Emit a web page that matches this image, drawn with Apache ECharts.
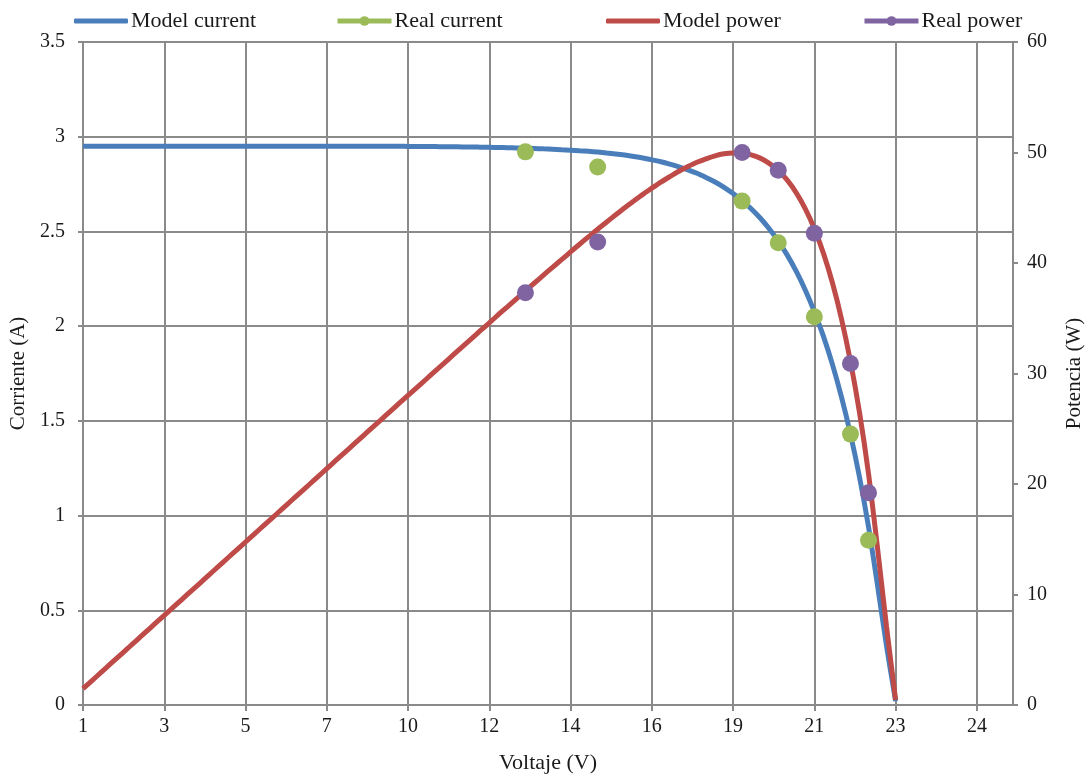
<!DOCTYPE html>
<html>
<head>
<meta charset="utf-8">
<script src="https://cdn.jsdelivr.net/npm/echarts@6/dist/echarts.min.js"></script>
<style>
    html, body { margin: 0; padding: 0; background: #fff; }
    #chart { width: 1088px; height: 776px; }
</style>
</head>
<body>
<div id="chart"></div>
<script>
    // categorias del eje X: voltaje (V)
    let voltaje = [
        0.5, 0.75, 1, 1.25, 1.5, 1.75, 2, 2.25, 2.5, 2.75,
        3, 3.25, 3.5, 3.75, 4, 4.25, 4.5, 4.75, 5, 5.25,
        5.5, 5.75, 6, 6.25, 6.5, 6.75, 7, 7.25, 7.5, 7.75,
        8, 8.25, 8.5, 8.75, 9, 9.25, 9.5, 9.75, 10, 10.25,
        10.5, 10.75, 11, 11.25, 11.5, 11.75, 12, 12.25, 12.5, 12.75,
        13, 13.25, 13.5, 13.75, 14, 14.25, 14.5, 14.75, 15, 15.25,
        15.5, 15.75, 16, 16.25, 16.5, 16.75, 17, 17.25, 17.5, 17.75,
        18, 18.25, 18.5, 18.75, 19, 19.25, 19.5, 19.75, 20, 20.25,
        20.5, 20.75, 21, 21.25, 21.5, 21.75, 22, 22.25, 22.5, 22.75,
        23, 23.1, 23.2, 23.3, 23.4, 23.5, 23.6, 23.7, 23.8, 23.9,
        24, 24.1, 24.2, 24.3
    ];

    // modelo: corriente (A)
    let modelCurrent = [
        2.95, 2.95, 2.95, 2.95, 2.95, 2.95, 2.95, 2.95, 2.95, 2.95,
        2.95, 2.95, 2.95, 2.95, 2.95, 2.95, 2.95, 2.95, 2.95, 2.95,
        2.95, 2.95, 2.95, 2.95, 2.95, 2.95, 2.95, 2.95, 2.95, 2.95,
        2.95, 2.95, 2.95, 2.95, 2.95, 2.95, 2.949, 2.949, 2.948, 2.948,
        2.947, 2.947, 2.946, 2.946, 2.945, 2.944, 2.943, 2.942, 2.941, 2.939,
        2.938, 2.936, 2.934, 2.931, 2.929, 2.926, 2.923, 2.919, 2.914, 2.909,
        2.903, 2.896, 2.888, 2.878, 2.868, 2.855, 2.841, 2.825, 2.807, 2.785,
        2.761, 2.733, 2.700, 2.663, 2.620, 2.571, 2.514, 2.449, 2.375, 2.289,
        2.190, 2.077, 1.947, 1.798, 1.626, 1.429, 1.203, 0.94, 0.63, 0.31,
        0.02
    ];

    // modelo: potencia (W)
    let modelPower = [
        1.48, 2.21, 2.95, 3.69, 4.43, 5.16, 5.90, 6.64, 7.38, 8.11,
        8.85, 9.59, 10.33, 11.06, 11.80, 12.54, 13.28, 14.01, 14.75, 15.49,
        16.23, 16.96, 17.70, 18.44, 19.18, 19.91, 20.65, 21.39, 22.13, 22.86,
        23.60, 24.34, 25.08, 25.81, 26.55, 27.29, 28.02, 28.75, 29.48, 30.22,
        30.94, 31.68, 32.41, 33.14, 33.87, 34.59, 35.32, 36.04, 36.76, 37.47,
        38.19, 38.90, 39.61, 40.30, 41.01, 41.70, 42.38, 43.06, 43.71, 44.36,
        45.00, 45.61, 46.21, 46.77, 47.32, 47.82, 48.30, 48.73, 49.12, 49.43,
        49.70, 49.88, 49.95, 49.93, 49.78, 49.49, 49.02, 48.37, 47.50, 46.35,
        44.90, 43.10, 40.89, 38.21, 34.96, 31.08, 26.47, 20.92, 14.18, 7.05,
        0.46
    ];

    // medidas reales
    let realVoltage = [12.75, 14.75, 18.75, 19.75, 20.75, 21.75, 22.25];
    let realCurrent = [2.92, 2.84, 2.66, 2.44, 2.05, 1.43, 0.87];
    let realPower = [37.3, 41.9, 50.0, 48.4, 42.7, 30.9, 19.2];

    // colores
    let blue = '#4a7ebb', green = '#9bbb59', red = '#be4b48', purple = '#8064a2';
    let gray = '#8a8a8a', txt = '#1a1a1a';
    let font = 'Liberation Serif';

    // huecos donde no hay medida (como celdas vacias en Excel)
    function sparse(values) {
        return voltaje.map(v => {
            let k = realVoltage.indexOf(v);
            return k < 0 ? '-' : values[k];
        });
    }

    let myChart = echarts.init(document.getElementById('chart'));

    function legendAt(name, left, isReal) {
        let lg = {
            data: [isReal ? name : {name: name, icon: 'roundRect'}],
            left: left,
            top: 10,
            padding: 0,
            itemWidth: 54,
            itemHeight: isReal ? 12 : 5,
            itemGap: 0,
            selectedMode: false,
            textStyle: {fontFamily: font, fontSize: 22, color: txt, padding: [0, 0, 0, -2]}
        };
        if (isReal) lg.lineStyle = {width: 5};
        return lg;
    }

    let option = {
        animation: false,
        backgroundColor: '#fff',
        textStyle: {fontFamily: font},
        legend: [
            legendAt('Model current', 74, false),
            legendAt('Real current', 335, true),
            legendAt('Model power', 606, false),
            legendAt('Real power', 862, true)
        ],
        grid: {left: 83, right: 75, top: 42, bottom: 71, outerBoundsMode: 'none'},
        xAxis: {
            type: 'category',
            data: voltaje,
            boundaryGap: false,
            name: 'Voltaje (V)',
            nameLocation: 'middle',
            nameGap: 47,
            nameTextStyle: {fontFamily: font, fontSize: 22, color: txt},
            axisLine: {lineStyle: {color: gray, width: 2}},
            axisTick: {interval: 8, length: 6, lineStyle: {color: gray, width: 2}},
            axisLabel: {
                interval: 8,
                margin: 12,
                fontFamily: font,
                fontSize: 20,
                color: txt,
                formatter: v => String(Math.round(Number(v)))
            },
            splitLine: {show: true, interval: 8, lineStyle: {color: gray, width: 2}}
        },
        yAxis: [
            {
                type: 'value',
                min: 0,
                max: 3.5,
                interval: 0.5,
                name: 'Corriente (A)',
                nameLocation: 'middle',
                nameRotate: 90,
                nameGap: 44,
                nameTextStyle: {fontFamily: font, fontSize: 21, color: txt},
                axisLine: {show: true, lineStyle: {color: gray, width: 2}},
                axisTick: {show: true, length: 5, lineStyle: {color: gray, width: 2}},
                axisLabel: {margin: 18, fontFamily: font, fontSize: 20, color: txt},
                splitLine: {show: true, lineStyle: {color: gray, width: 2}}
            },
            {
                type: 'value',
                min: 0,
                max: 60,
                interval: 10,
                position: 'right',
                name: 'Potencia (W)',
                nameLocation: 'middle',
                nameRotate: 90,
                nameGap: 51,
                nameTextStyle: {fontFamily: font, fontSize: 21, color: txt},
                axisLine: {show: true, lineStyle: {color: gray, width: 2}},
                axisTick: {show: true, length: 5, lineStyle: {color: gray, width: 2}},
                axisLabel: {margin: 14, fontFamily: font, fontSize: 20, color: txt},
                splitLine: {show: false}
            }
        ],
        series: [
            {
                name: 'Model current',
                type: 'line',
                yAxisIndex: 0,
                data: modelCurrent,
                symbol: 'none',
                smooth: 0.3,
                lineStyle: {width: 5, color: blue},
                itemStyle: {color: blue}
            },
            {
                name: 'Real current',
                type: 'line',
                yAxisIndex: 0,
                data: sparse(realCurrent),
                symbol: 'circle',
                symbolSize: 17,
                showAllSymbol: true,
                connectNulls: false,
                lineStyle: {width: 5, color: green},
                itemStyle: {color: green}
            },
            {
                name: 'Model power',
                type: 'line',
                yAxisIndex: 1,
                data: modelPower,
                symbol: 'none',
                smooth: 0.3,
                lineStyle: {width: 5, color: red},
                itemStyle: {color: red}
            },
            {
                name: 'Real power',
                type: 'line',
                yAxisIndex: 1,
                data: sparse(realPower),
                symbol: 'circle',
                symbolSize: 17,
                showAllSymbol: true,
                connectNulls: false,
                lineStyle: {width: 5, color: purple},
                itemStyle: {color: purple}
            }
        ]
    };

    myChart.setOption(option);
</script>
</body>
</html>
